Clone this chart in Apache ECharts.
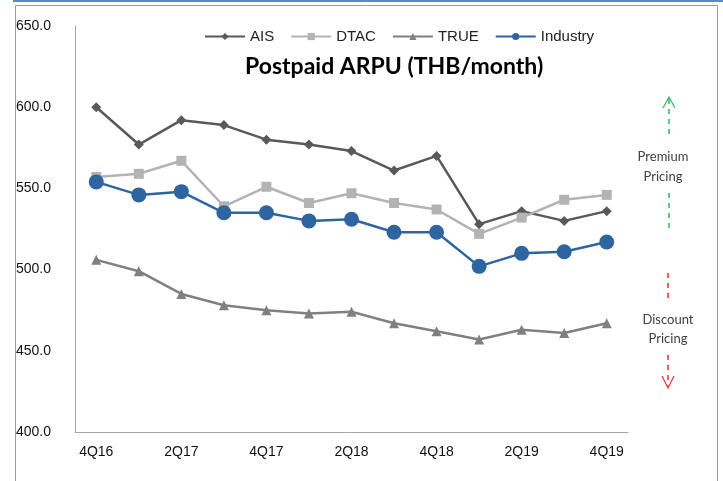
<!DOCTYPE html>
<html>
<head>
<meta charset="utf-8">
<script src="https://cdn.jsdelivr.net/npm/echarts@6/dist/echarts.min.js"></script>
<style>
  html, body { margin: 0; padding: 0; background: #fff; }
  #main { width: 723px; height: 481px; }
</style>
</head>
<body>
<div id="main"></div>
<script>
// quarters on the x axis
var quarters = ['4Q16', '1Q17', '2Q17', '3Q17', '4Q17', '1Q18', '2Q18', '3Q18', '4Q18', '1Q19', '2Q19', '3Q19', '4Q19'];
// postpaid ARPU, THB/month
var ais      = [600, 577, 592, 589, 580, 577, 573, 561, 570, 528, 536, 530, 536];
var dtac     = [557, 559, 567, 539, 551, 541, 547, 541, 537, 522, 532, 543, 546];
var trueMove = [506, 499, 485, 478, 475, 473, 474, 467, 462, 457, 463, 461, 467];
var industry = [554, 546, 548, 535, 535, 530, 531, 523, 523, 502, 510, 511, 517];

var myChart = echarts.init(document.getElementById('main'));

var dash = [5, 5];
var noteFont = '13px Lato, "Open Sans", sans-serif';

myChart.setOption({
    animation: false,
    backgroundColor: '#fff',
    title: {
        text: 'Postpaid ARPU (THB/month)',
        left: 240,
        top: 50,
        textStyle: { fontFamily: 'Lato', fontWeight: 'bold', fontSize: 23, color: '#000' }
    },
    legend: {
        top: 24,
        left: 199,
        itemWidth: 40,
        itemHeight: 9,
        itemGap: 16,
        textStyle: { fontFamily: 'Liberation Sans', fontSize: 15, color: '#222' },
        data: ['AIS', 'DTAC', 'TRUE', 'Industry']
    },
    grid: { left: 75, right: 95, top: 26, bottom: 49 },
    xAxis: {
        type: 'category',
        data: quarters,
        boundaryGap: true,
        axisLine: { lineStyle: { color: '#a6a6a6', width: 1 } },
        axisTick: { show: false },
        axisLabel: { interval: 1, margin: 13, fontFamily: 'Liberation Sans', fontSize: 14, color: '#111' }
    },
    yAxis: {
        type: 'value',
        min: 400,
        max: 650,
        interval: 50,
        splitLine: { show: false },
        axisLine: { show: true, lineStyle: { color: '#a6a6a6', width: 1 } },
        axisTick: { show: false },
        axisLabel: {
            margin: 59,
            align: 'left',
            fontFamily: 'Liberation Sans',
            fontSize: 14,
            color: '#111',
            formatter: function (v) { return v.toFixed(1); }
        }
    },
    series: [
        {
            name: 'AIS', type: 'line', data: ais,
            symbol: 'diamond', symbolSize: 10,
            lineStyle: { color: '#595959', width: 2.5 },
            itemStyle: { color: '#595959' }
        },
        {
            name: 'DTAC', type: 'line', data: dtac,
            symbol: 'rect', symbolSize: 10,
            lineStyle: { color: '#b3b3b3', width: 2.5 },
            itemStyle: { color: '#b3b3b3' }
        },
        {
            name: 'TRUE', type: 'line', data: trueMove,
            symbol: 'triangle', symbolSize: 10,
            lineStyle: { color: '#808080', width: 2.5 },
            itemStyle: { color: '#808080' }
        },
        {
            name: 'Industry', type: 'line', data: industry,
            symbol: 'circle', symbolSize: 15,
            lineStyle: { color: '#2e65a0', width: 2.5 },
            itemStyle: { color: '#2e65a0' }
        }
    ],
    graphic: [
        // chart frame
        { type: 'rect', shape: { x: 13, y: 0, width: 710, height: 2 }, style: { fill: '#5a8bc6' } },
        { type: 'rect', shape: { x: 15.5, y: 5.5, width: 702, height: 500 }, style: { fill: 'none', stroke: '#9a9a9a', lineWidth: 1 } },
        // premium arrow
        { type: 'polyline', shape: { points: [[663, 108], [669, 97], [675, 108]] }, style: { stroke: '#2fb55a', lineWidth: 1.2, fill: 'none' } },
        { type: 'line', shape: { x1: 669, y1: 99, x2: 669, y2: 138 }, style: { stroke: '#2fb55a', lineWidth: 1.5, lineDash: dash } },
        { type: 'line', shape: { x1: 669, y1: 193, x2: 669, y2: 229 }, style: { stroke: '#2fb55a', lineWidth: 1.5, lineDash: dash } },
        { type: 'text', x: 663, y: 157, style: { text: 'Premium', font: noteFont, fill: '#404040', align: 'center', verticalAlign: 'middle' } },
        { type: 'text', x: 663, y: 177, style: { text: 'Pricing', font: noteFont, fill: '#404040', align: 'center', verticalAlign: 'middle' } },
        // discount arrow
        { type: 'line', shape: { x1: 668, y1: 273, x2: 668, y2: 301 }, style: { stroke: '#f03030', lineWidth: 1.5, lineDash: dash } },
        { type: 'line', shape: { x1: 668, y1: 355, x2: 668, y2: 386 }, style: { stroke: '#f03030', lineWidth: 1.5, lineDash: dash } },
        { type: 'polyline', shape: { points: [[662, 376], [668, 388], [674, 376]] }, style: { stroke: '#f03030', lineWidth: 1.2, fill: 'none' } },
        { type: 'text', x: 668, y: 320, style: { text: 'Discount', font: noteFont, fill: '#404040', align: 'center', verticalAlign: 'middle' } },
        { type: 'text', x: 668, y: 339, style: { text: 'Pricing', font: noteFont, fill: '#404040', align: 'center', verticalAlign: 'middle' } }
    ]
});
</script>
</body>
</html>
